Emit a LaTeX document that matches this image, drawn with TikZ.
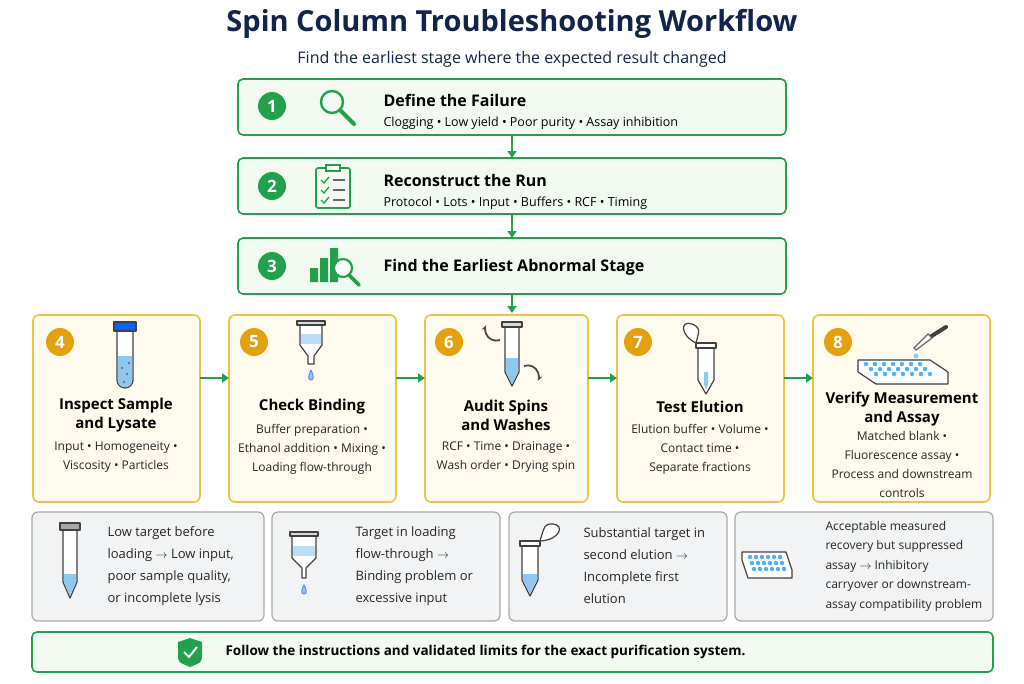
\documentclass[tikz,border=0pt]{standalone}
\usepackage{fontspec}
\setmainfont{Open Sans}
\usetikzlibrary{arrows.meta,positioning}
\definecolor{navy}{HTML}{13234A}
\definecolor{grn}{HTML}{22A04B}
\definecolor{grnfill}{HTML}{F1F9F1}
\definecolor{org}{HTML}{F0C040}
\definecolor{orgfill}{HTML}{FFFAEE}
\definecolor{orgdot}{HTML}{E3A10F}
\definecolor{gryline}{HTML}{A8A8A8}
\definecolor{gryfill}{HTML}{F2F3F4}
\definecolor{liq}{HTML}{8EC8EE}
\tikzset{
  stepbox/.style={draw=grn, line width=1.6pt, fill=grnfill, rounded corners=5pt},
  stagebox/.style={draw=org, line width=1.6pt, fill=orgfill, rounded corners=6pt},
  notebox/.style={draw=gryline, line width=1.2pt, fill=gryfill, rounded corners=6pt},
  flow/.style={draw=grn, line width=2.2pt, -{Triangle[length=7pt,width=9pt]}},
  num/.style={circle, fill=#1, text=white, font=\bfseries\fontsize{17}{17}\selectfont, minimum size=28pt, inner sep=0pt},
  head/.style={font=\bfseries\fontsize{15}{19}\selectfont, text=black, align=center},
  body/.style={font=\fontsize{12}{19}\selectfont, text=black!85, align=center},
  note/.style={font=\fontsize{13}{22}\selectfont, text=black!85, align=left, anchor=west},
  icon/.style={draw=black!75, line width=1.2pt, line join=round}
}
\begin{document}
\begin{tikzpicture}[x=1pt,y=-1pt]
\useasboundingbox[fill=white] (0,0) rectangle (1024,683);

% title
\node (title) at (512,24) {\fontsize{29}{30}\selectfont\bfseries\color{navy}Spin Column Troubleshooting Workflow};
\node (sub) at (512,59) {\fontsize{16}{18}\selectfont\color{navy}Find the earliest stage where the expected result changed};

% steps 1-3
\draw[stepbox] (238,79) rectangle (786,135);
\draw[stepbox] (238,158) rectangle (786,214);
\draw[stepbox] (238,238) rectangle (786,294);
\coordinate (b1) at (512,135); \coordinate (t2) at (512,158);
\coordinate (b2) at (512,214); \coordinate (t3) at (512,238);
\coordinate (b3) at (512,294); \coordinate (trow) at (512,313);
\draw[flow] (b1) -- (t2);
\draw[flow] (b2) -- (t3);
\draw[flow] (b3) -- (trow);

\node[num=grn] (n1) at (272,106) {1};
\node[num=grn] (n2) at (272,186) {2};
\node[num=grn] (n3) at (272,266) {3};

% magnifier
\draw[draw=grn, line width=2.4pt] (332,102) circle (11);
\draw[draw=grn, line width=4pt, line cap=round] (340,110) -- (354,124);
% clipboard
\draw[draw=grn, line width=1.6pt, rounded corners=2pt] (316,168) rectangle (350,208);
\draw[draw=grn, line width=1.6pt, fill=white] (326,165) rectangle (340,171);
\foreach \yy in {180,190,200}{
  \draw[draw=grn, line width=1.4pt] (321,\yy) -- (324,\yy+3) -- (329,\yy-3);
  \draw[draw=black!60, line width=1.2pt] (333,\yy) -- (345,\yy);}
% bar chart + lens
\fill[grn] (310,268) rectangle (318,282) (320,258) rectangle (328,282) (330,248) rectangle (338,282);
\draw[draw=grn, line width=2.2pt, fill=white] (343,268) circle (9);
\draw[draw=grn, line width=3.6pt, line cap=round] (349,275) -- (359,285);

\node[anchor=west, font=\bfseries\fontsize{16}{18}\selectfont] (h1) at (380,100) {Define the Failure};
\node[anchor=west, font=\fontsize{12.5}{14}\selectfont] (s1) at (380,123) {Clogging • Low yield • Poor purity • Assay inhibition};
\node[anchor=west, font=\bfseries\fontsize{16}{18}\selectfont] (h2) at (380,180) {Reconstruct the Run};
\node[anchor=west, font=\fontsize{12.5}{14}\selectfont] (s2) at (380,203) {Protocol • Lots • Input • Buffers • RCF • Timing};
\node[anchor=west, font=\bfseries\fontsize{16}{18}\selectfont] (h3) at (380,267) {Find the Earliest Abnormal Stage};

% stage row
\draw[stagebox] (33,315) rectangle (200,502);
\draw[stagebox] (229,315) rectangle (396,502);
\draw[stagebox] (425,315) rectangle (588,502);
\draw[stagebox] (617,315) rectangle (784,502);
\draw[stagebox] (813,315) rectangle (990,502);
\foreach \a/\b in {200/229,396/425,588/617,784/813}{
  \coordinate (r\a) at (\a,378); \coordinate (l\b) at (\b,378);
  \draw[flow] (r\a) -- (l\b);}

\node[num=orgdot] (n4) at (60,342) {4};
\node[num=orgdot] (n5) at (254,342) {5};
\node[num=orgdot] (n6) at (449,342) {6};
\node[num=orgdot] (n7) at (638,342) {7};
\node[num=orgdot] (n8) at (838,342) {8};

% tube icon
\draw[icon, fill=white] (117,330) -- (117,380) arc (180:0:8) -- (133,330);
\fill[liq] (118,356) -- (118,380) arc (180:0:7) -- (132,356) -- cycle;
\draw[icon, fill=blue!60!cyan] (114,322) rectangle (136,331);
\foreach \p in {(122,368),(127,374),(124,382),(129,363)} \fill[black!55] \p circle (1.3);
% funnel icon
\draw[icon, fill=white] (300,323) -- (300,345) -- (308,356) -- (308,364) -- (314,364) -- (314,356) -- (322,345) -- (322,323);
\fill[liq!60] (301,334) rectangle (321,344);
\draw[icon, fill=black!15] (297,321) rectangle (325,325);
\draw[draw=liq!70!blue, fill=liq, line width=1pt] (311,370) .. controls (308,376) and (308,380) .. (311,380) .. controls (314,380) and (314,376) .. (311,370);
% spin icon
\draw[icon, fill=white] (505,326) -- (505,372) -- (512,386) -- (519,372) -- (519,326);
\fill[liq] (506,358) -- (506,372) -- (512,384) -- (518,372) -- (518,358) -- cycle;
\draw[icon, fill=black!15] (502,322) rectangle (522,327);
\draw[draw=black!70, line width=1.8pt, -{Stealth[length=6pt]}] (500,340) arc (70:205:11);
\draw[draw=black!70, line width=1.8pt, -{Stealth[length=6pt]}] (524,366) arc (250:385:11);
% elution icon
\draw[icon, fill=white] (698,344) -- (698,380) -- (706,394) -- (714,380) -- (714,344);
\fill[liq] (704,372) -- (704,384) -- (706,390) -- (708,384) -- (708,372) -- cycle;
\draw[icon, fill=white] (696,343) rectangle (716,348);
\draw[icon, fill=white] (696,343) .. controls (680,335) and (680,320) .. (692,324) .. controls (700,328) .. (696,343);
% plate + dropper icon
\draw[icon, fill=white] (858,360) -- (930,360) -- (948,372) -- (948,384) -- (876,384) -- (858,372) -- cycle;
\foreach \i in {0,...,6} \foreach \j in {0,...,2}
  \fill[blue!45!cyan!70] (866+\i*9+\j*5, 364+\j*5) circle (2.2);
\draw[icon, line width=4pt, line cap=round] (930,337) -- (946,327);
\draw[draw=black!60, fill=white, line width=1.2pt] (916,350) -- (932,338) -- (928,334) -- (914,348) -- cycle;
\fill[liq] (916,356) circle (2.5);

\node[head] (h4) at (116,415) {Inspect Sample\\and Lysate};
\node[body] (s4) at (116,457) {Input • Homogeneity •\\Viscosity • Particles};
\node[head] (h5) at (312,407) {Check Binding};
\node[body] (s5) at (312,449) {Buffer preparation •\\Ethanol addition • Mixing •\\Loading flow-through};
\node[head] (h6) at (506,415) {Audit Spins\\and Washes};
\node[body] (s6) at (506,457) {RCF • Time • Drainage •\\Wash order • Drying spin};
\node[head] (h7) at (700,407) {Test Elution};
\node[body] (s7) at (700,449) {Elution buffer • Volume •\\Contact time •\\Separate fractions};
\node[head] (h8) at (902,409) {Verify Measurement\\and Assay};
\node[body] (s8) at (902,464) {Matched blank •\\Fluorescence assay •\\Process and downstream\\controls};

% notes
\draw[notebox] (32,512) rectangle (264,621);
\draw[notebox] (272,512) rectangle (500,621);
\draw[notebox] (509,512) rectangle (727,621);
\draw[notebox] (735,512) rectangle (993,621);

\draw[icon, fill=white] (63,528) -- (63,582) -- (70,598) -- (77,582) -- (77,528);
\fill[liq] (64,574) -- (64,582) -- (70,596) -- (76,582) -- (76,574) -- cycle;
\draw[icon, fill=black!35] (60,523) rectangle (80,530);
\draw[icon, fill=white] (292,535) -- (292,558) -- (302,568) -- (302,578) -- (306,578) -- (306,568) -- (316,558) -- (316,535);
\fill[liq!60] (293,546) rectangle (315,556);
\draw[icon, fill=black!15] (290,532) rectangle (318,536);
\draw[draw=liq!70!blue, fill=liq, line width=1pt] (304,585) .. controls (301,590) and (301,594) .. (304,594) .. controls (307,594) and (307,590) .. (304,585);
\draw[icon, fill=white] (522,544) -- (522,580) -- (530,596) -- (538,580) -- (538,544);
\fill[liq] (523,574) -- (523,580) -- (530,594) -- (537,580) -- (537,574) -- cycle;
\draw[icon, fill=white] (520,541) rectangle (540,546);
\draw[icon, fill=white] (540,541) .. controls (560,540) and (565,525) .. (553,524) .. controls (545,524) .. (540,541);
\draw[icon, fill=white] (742,552) -- (786,552) -- (792,570) -- (792,578) -- (748,578) -- (742,560) -- cycle;
\foreach \i in {0,...,5} \foreach \j in {0,...,2}
  \fill[blue!45!cyan!70] (750+\i*6+\j*2, 557+\j*6) circle (2.2);

\node[note] (nt1) at (104,566) {Low target before\\loading $\rightarrow$ Low input,\\poor sample quality,\\or incomplete lysis};
\node[note] (nt2) at (352,566) {Target in loading\\flow-through $\rightarrow$\\Binding problem or\\excessive input};
\node[note] (nt3) at (580,566) {Substantial target in\\second elution $\rightarrow$\\Incomplete first\\elution};
\node[note, font=\fontsize{12}{19.5}\selectfont] (nt4) at (822,566) {Acceptable measured\\recovery but suppressed\\assay $\rightarrow$ Inhibitory\\carryover or downstream-\\assay compatibility problem};

% footer
\draw[stepbox] (32,632) rectangle (993,672);
\draw[fill=grn, draw=none] (190,638) -- (202,642) -- (202,654) .. controls (202,662) .. (190,667) .. controls (178,662) .. (178,654) -- (178,642) -- cycle;
\draw[white, line width=2pt] (184,652) -- (189,657) -- (197,647);
\node[anchor=west, font=\bfseries\fontsize{13.5}{16}\selectfont] (foot) at (222,652) {Follow the instructions and validated limits for the exact purification system.};
\end{tikzpicture}
\end{document}
